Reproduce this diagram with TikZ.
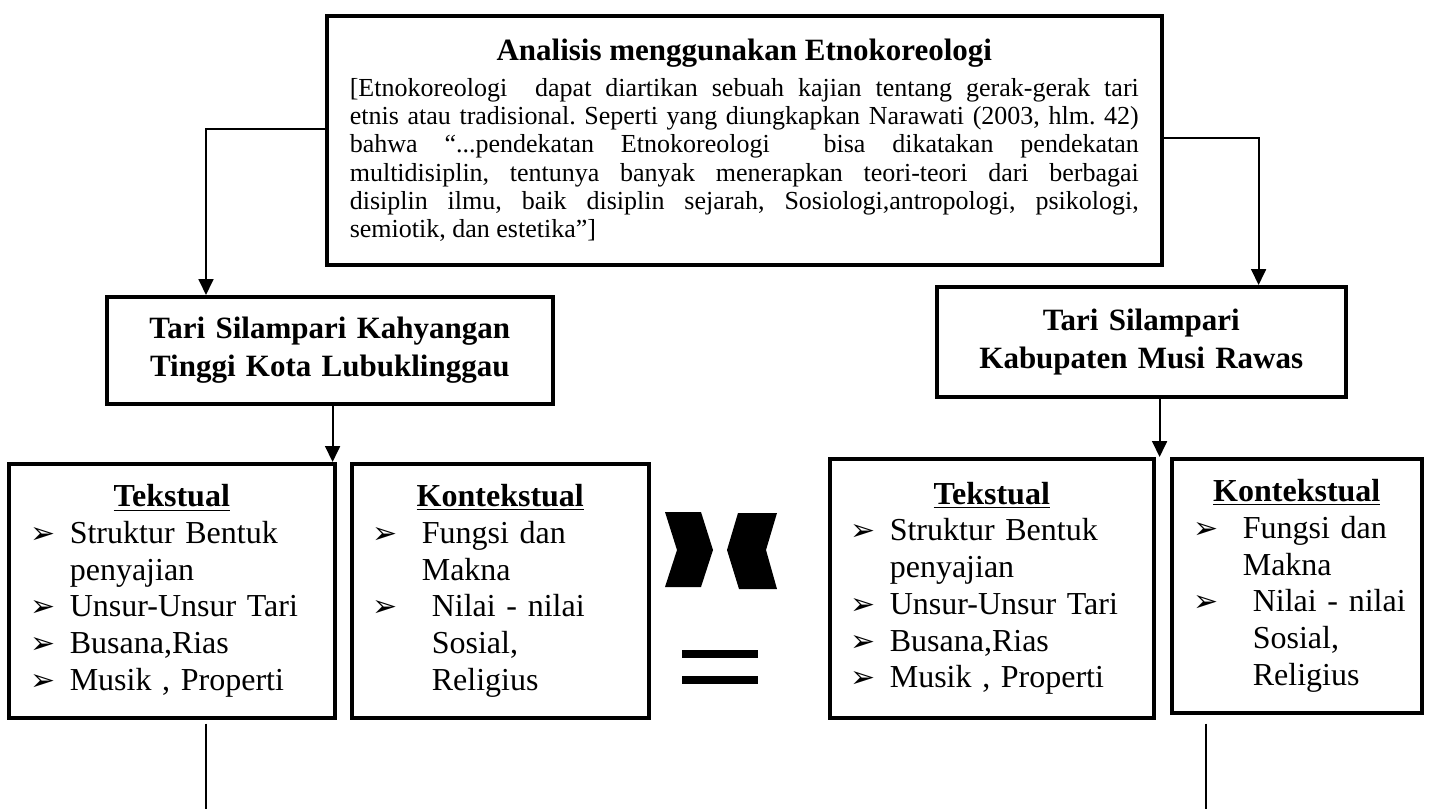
\documentclass[tikz,border=0pt]{standalone}
\usepackage{fontspec}
\setmainfont{Liberation Serif}
\newfontfamily\dejavu{DejaVu Sans}
\usetikzlibrary{arrows.meta}

\newcommand{\bul}{{\dejavu\fontsize{15pt}{15pt}\selectfont ➢}}
\newcommand{\bitem}[2]{\hspace*{#1}\makebox[#2][l]{\bul}}
\newcommand{\head}[1]{\makebox[\linewidth]{\bfseries\underline{#1}}}

\tikzset{
  box/.style={draw, line width=1.8pt, inner sep=0pt, anchor=north west},
  tari/.style={box, align=center, font={\fontsize{15.5pt}{19pt}\selectfont\bfseries}},
  list/.style={box, align=left, font={\fontsize{16pt}{18.35pt}\selectfont\frenchspacing}},
  conn/.style={line width=0.9pt},
  arr/.style={conn, -{Triangle[length=8pt,width=7.5pt]}},
  tail/.style={line width=0.75pt}
}

\begin{document}
\begin{tikzpicture}[x=0.5pt, y=-0.5pt]
\useasboundingbox (0,0) rectangle (1429,809);

% Etnokoreologi box
\node[box, minimum width=417.5pt, minimum height=124.5pt, inner xsep=11.5pt,
      text width=394.5pt, align=justify,
      font={\fontsize{13pt}{14.15pt}\selectfont\frenchspacing}] (etno) at (325,14)
{\makebox[\linewidth]{\fontsize{15.5pt}{18pt}\bfseries\selectfont Analisis menggunakan Etnokoreologi}\\[3.85pt]
[Etnokoreologi\ \ dapat diartikan sebuah kajian tentang gerak-gerak tari\linebreak
etnis atau tradisional. Seperti yang diungkapkan Narawati (2003, hlm. 42)\linebreak
bahwa “...pendekatan Etnokoreologi\ \ bisa dikatakan pendekatan\linebreak
multidisiplin, tentunya banyak menerapkan teori-teori dari berbagai\linebreak
disiplin ilmu, baik disiplin sejarah, Sosiologi,antropologi, psikologi,\linebreak
semiotik, dan estetika”]};

% Tari boxes
\node[tari, minimum width=223pt, minimum height=53.5pt, text width=223pt] (tariL) at (105,295)
  {Tari Silampari Kahyangan\\Tinggi Kota Lubuklinggau};
\node[tari, minimum width=204.5pt, minimum height=55pt, text width=204.5pt] (tariR) at (935,285)
  {Tari Silampari\\Kabupaten Musi Rawas};

% Tekstual / Kontekstual boxes (left)
\node[list, minimum width=163pt, minimum height=127pt, text width=163pt] (tekL) at (7,462)
{\head{Tekstual}\\
 \bitem{11pt}{19.5pt}Struktur Bentuk\\
 \hspace*{30.5pt}penyajian\\
 \bitem{11pt}{19.5pt}Unsur-Unsur Tari\\
 \bitem{11pt}{19.5pt}Busana,Rias\\
 \bitem{11pt}{19.5pt}Musik , Properti};
\node[list, minimum width=148.5pt, minimum height=127pt, text width=148.5pt] (konL) at (350,462)
{\head{Kontekstual}\\
 \bitem{10.5pt}{24.5pt}Fungsi dan\\
 \hspace*{35pt}Makna\\
 \bitem{10.5pt}{29.5pt}Nilai - nilai\\
 \hspace*{40pt}Sosial,\\
 \hspace*{40pt}Religius};

% Tekstual / Kontekstual boxes (right)
\node[list, minimum width=162pt, minimum height=129.5pt, text width=162pt] (tekR) at (828,457)
{\head{Tekstual}\\
 \bitem{10.5pt}{19.5pt}Struktur Bentuk\\
 \hspace*{30pt}penyajian\\
 \bitem{10.5pt}{19.5pt}Unsur-Unsur Tari\\
 \bitem{10.5pt}{19.5pt}Busana,Rias\\
 \bitem{10.5pt}{19.5pt}Musik , Properti};
\node[list, minimum width=125pt, minimum height=127pt, text width=125pt] (konR) at (1170,457)
{\head{Kontekstual}\\
 \bitem{11pt}{24.5pt}Fungsi dan\\
 \hspace*{35.5pt}Makna\\
 \bitem{11pt}{29.5pt}Nilai - nilai\\
 \hspace*{40.5pt}Sosial,\\
 \hspace*{40.5pt}Religius};

% connectors
\draw[arr] ([yshift=5.75pt]etno.west) -| ([xshift=50.5pt]tariL.north west);
\draw[arr] ([yshift=1.25pt]etno.east) -| ([xshift=-44.5pt]tariR.north east);
\coordinate (dropL) at ([xshift=-2pt]tekL.north east);
\coordinate (dropR) at ([xshift=2pt]tekR.north east);
\draw[arr] (dropL |- tariL.south) -- (dropL);
\draw[arr] (dropR |- tariR.south) -- (dropR);

% lines going down off the page
\coordinate (outL) at (206,809);
\coordinate (outR) at (1206,809);
\draw[tail] (outL |- tekL.south) ++(0,4) -- (outL);
\draw[tail] (outR |- tekR.south) ++(0,4) -- (outR);

% chevrons and equal sign
\fill (665,512) -- (701,512) -- (713,550) -- (701,587) -- (665,587) -- (677,550) -- cycle;
\fill (738,513) -- (777,513) -- (766,550) -- (777,589) -- (739,589) -- (727,550) -- cycle;
\fill (682,650) rectangle (758,658);
\fill (682,676) rectangle (758,684);
\end{tikzpicture}
\end{document}
